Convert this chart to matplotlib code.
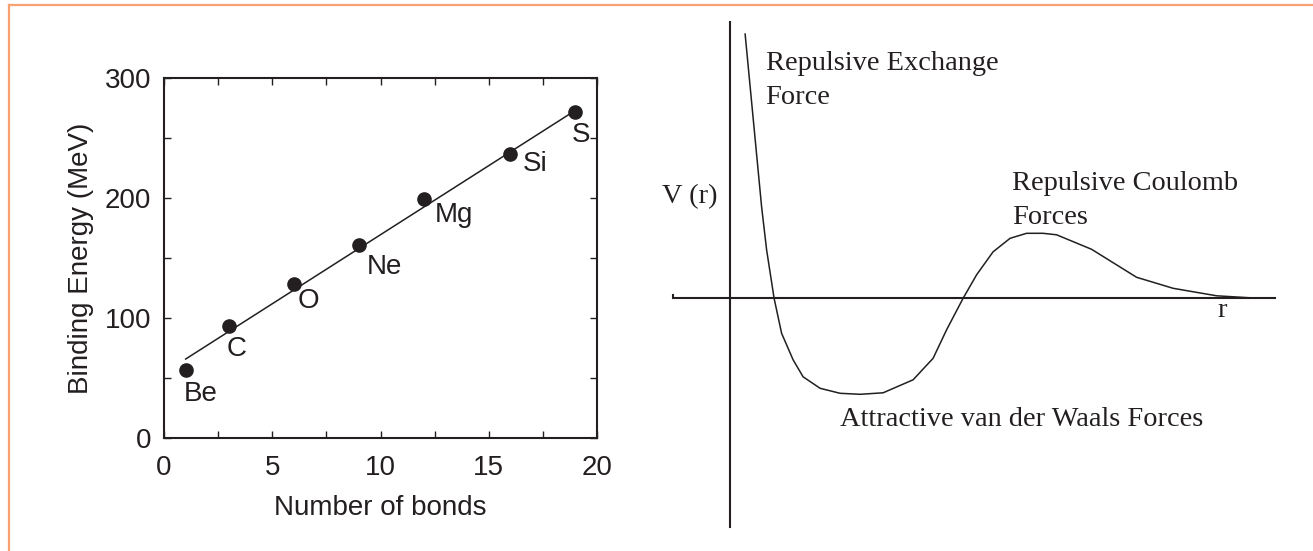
import matplotlib
matplotlib.use("Agg")
import matplotlib.pyplot as plt
from matplotlib.lines import Line2D
from matplotlib.ticker import MultipleLocator

# ---- binding energy vs. number of bonds ----
elements = ["Be", "C", "O", "Ne", "Mg", "Si", "S"]
bonds = [1, 3, 6, 9, 12, 16, 19]
binding_energy = [57, 93, 128, 161, 199, 237, 272]
fit_bonds = [1, 19]
fit_energy = [65.8, 273.0]

x_ticks = [0, 5, 10, 15, 20]
y_ticks = [0, 100, 200, 300]

# label placement relative to each point (pixels, x right / y up)
label_offsets = [(-2, -31), (-2, -30), (4, -24), (8, -29), (11, -23), (12, -17), (-4, -30)]

# ---- schematic potential V(r) ----
r_values = [0.31, 0.64, 0.74, 0.89, 1.04, 1.27, 1.47, 1.81, 2.21, 2.61, 3.07,
            3.67, 4.07, 4.34, 4.67, 4.94, 5.27, 5.61, 5.94, 6.27, 6.54, 7.24,
            8.14, 8.87, 9.74, 10.41]
v_values = [5.29, 1.83, 0.97, 0.0, -0.70, -1.23, -1.57, -1.80, -1.90, -1.92, -1.89,
            -1.63, -1.20, -0.63, 0.0, 0.47, 0.93, 1.20, 1.30, 1.30, 1.27, 0.98,
            0.42, 0.20, 0.05, 0.01]

INK = "#231f20"
W, H, DPI = 1313, 551, 100

plt.rcParams["font.family"] = ["Liberation Sans", "DejaVu Sans"]
fig = plt.figure(figsize=(W / DPI, H / DPI), dpi=DPI)
fig.patch.set_facecolor("white")

# orange frame (top and left edges)
frame_color = "#f9a173"
fig.add_artist(Line2D([8.5 / W, 1.0], [1 - 4.5 / H, 1 - 4.5 / H],
                      transform=fig.transFigure, color=frame_color, lw=1.6))
fig.add_artist(Line2D([8.5 / W, 8.5 / W], [0, 1 - 4.5 / H],
                      transform=fig.transFigure, color=frame_color, lw=1.6))

# ---------- left panel ----------
ax = fig.add_axes([164 / W, (H - 438) / H, (597 - 164) / W, (438 - 78) / H])
ax.plot(fit_bonds, fit_energy, color=INK, lw=1.1, zorder=2)
ax.plot(bonds, binding_energy, "o", color=INK, ms=9.5, zorder=3)
for name, x, y, (dx, dy) in zip(elements, bonds, binding_energy, label_offsets):
    ax.annotate(name, (x, y), xytext=(dx, dy), textcoords="offset pixels",
                ha="left", va="baseline", fontsize=20, color=INK)

ax.set_xlim(0, 20)
ax.set_ylim(0, 300)
ax.set_xticks(x_ticks)
ax.set_yticks(y_ticks)
ax.xaxis.set_minor_locator(MultipleLocator(2.5))
ax.yaxis.set_minor_locator(MultipleLocator(50))
ax.tick_params(which="both", direction="in", top=True, right=True,
               length=5, width=1.0, color=INK)
ax.tick_params(axis="x", which="major", labelsize=20, pad=12, labelcolor=INK)
ax.tick_params(axis="y", which="major", labelsize=20, pad=9, labelcolor=INK)
for sp in ax.spines.values():
    sp.set_linewidth(1.5)
    sp.set_color(INK)
ax.set_xlabel("Number of bonds", fontsize=20, color=INK, labelpad=10)
ax.set_ylabel("Binding Energy (MeV)", fontsize=20, color=INK, labelpad=8)

# ---------- right panel ----------
# 1 unit of r or V spans 50 pixels; origin of the sketch sits at pixel (729.6, 298.3)
ox, oy, unit = 729.6, 298.3, 50.0
left_px = 660
ax2 = fig.add_axes([left_px / W, 0, (W - left_px) / W, 1])
ax2.set_xlim((left_px - ox) / unit, (W - ox) / unit)
ax2.set_ylim((oy - H) / unit, oy / unit)
ax2.axis("off")

def px(xp, yp):
    return (xp - ox) / unit, (oy - yp) / unit

# coordinate axes
hx0, _ = px(673.3, oy)
hx1, _ = px(1275, oy)
ax2.plot([hx0, hx0, hx1], [px(0, 294.5)[1], 0, 0], color=INK, lw=1.5,
         solid_joinstyle="miter")
_, vy0 = px(ox, 527)
_, vy1 = px(ox, 21.7)
ax2.plot([0, 0], [vy0, vy1], color=INK, lw=1.5)

ax2.plot(r_values, v_values, color=INK, lw=1.1,
         solid_joinstyle="round", solid_capstyle="round")

serif = ["Liberation Serif", "DejaVu Serif"]
def note(text, xp, yp):
    x, y = px(xp, yp)
    ax2.text(x, y, text, family=serif, fontsize=20.4, color=INK,
             ha="left", va="baseline")

note("Repulsive Exchange", 765.5, 70)
note("Force", 765.5, 104)
note("Repulsive Coulomb", 1012.5, 189.5)
note("Forces", 1012.5, 224)
note("Attractive van der Waals Forces", 839.5, 426.5)
note("V (r)", 662.5, 203.5)
note("r", 1217.5, 317)

fig.savefig("out.png", dpi=DPI, facecolor="white")
